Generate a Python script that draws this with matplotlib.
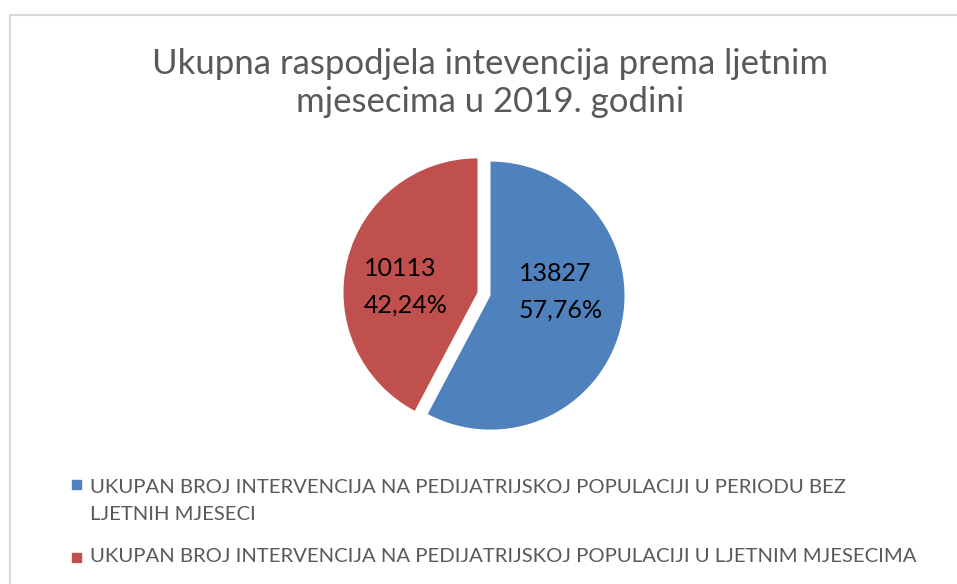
import matplotlib.pyplot as plt
from matplotlib.patches import Rectangle

plt.rcParams['font.family'] = ['Lato', 'DejaVu Sans']

title = 'Ukupna raspodjela intevencija prema ljetnim\nmjesecima u 2019. godini'
labels = [
    'UKUPAN BROJ INTERVENCIJA NA PEDIJATRIJSKOJ POPULACIJI U PERIODU BEZ\nLJETNIH MJESECI',
    'UKUPAN BROJ INTERVENCIJA NA PEDIJATRIJSKOJ POPULACIJI U LJETNIM MJESECIMA',
]
values = [13827, 10113]
pct_text = ['57,76%', '42,24%']
colors = ['#4F81BD', '#C0504D']
grey = '#595959'

W, H = 957, 584
fig = plt.figure(figsize=(W / 100, H / 100), dpi=100)

# chart area border (light grey, runs off right/bottom)
fig.patches.append(Rectangle((10 / W, -0.05), 1.0, 1 - 15 / H + 0.05,
                             transform=fig.transFigure, fill=False,
                             edgecolor='#D9D9D9', linewidth=1.5))

fig.text(490 / W, 1 - 83 / H, title, ha='center', va='center',
         fontsize=25, color=grey, linespacing=1.22)

# pie axes, square in pixels, centred at (484, 294)
R = 134
half = 160
ax = fig.add_axes([(484 - half) / W, (H - 294 - half) / H, 2 * half / W, 2 * half / H])
wedges, _ = ax.pie(values, colors=colors, startangle=90, counterclock=False,
                   explode=[0.05, 0.05], radius=1)
ax.set_xlim(-half / R, half / R)
ax.set_ylim(-half / R, half / R)
ax.set_axis_off()

label_pos = [(0.575, 0.019), (-0.582, 0.056)]
for (x, y), v, p in zip(label_pos, values, pct_text):
    ax.text(x, y, f'{v}\n{p}', ha='center', va='center', multialignment='left',
            fontsize=18, color='black', linespacing=1.72)

# legend drawn by hand so the marker sits on the first line
legend_y = [501, 556]
marker_y = [484, 557]
for lab, c, ty, my in zip(labels, colors, legend_y, marker_y):
    fig.patches.append(Rectangle((72 / W, 1 - (my + 4.5) / H), 9 / W, 9 / H,
                                 transform=fig.transFigure, color=c))
    fig.text(90 / W, 1 - ty / H, lab, ha='left', va='center', fontsize=14.6,
             color=grey, linespacing=1.65)

fig.savefig('out.png', dpi=100)
